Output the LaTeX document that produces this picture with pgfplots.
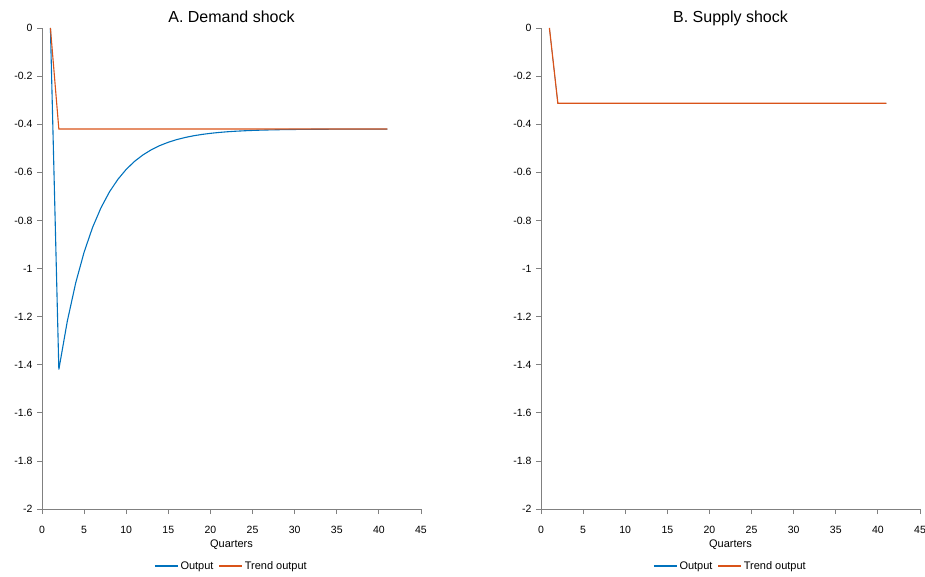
\documentclass[border=0pt]{standalone}
\usepackage{pgfplots}
\pgfplotsset{compat=1.18}
\usepackage{fontspec}
\setmainfont{Liberation Sans}

\definecolor{mblue}{RGB}{0,114,189}
\definecolor{morange}{RGB}{217,83,25}
\definecolor{axgray}{RGB}{128,128,128}

\pgfplotsset{
  panel/.style={
    scale only axis, width=379pt, height=481pt,
    xmin=0, xmax=45, ymin=-2, ymax=0,
    axis x line*=bottom, axis y line*=left,
    axis line style={draw=axgray, line width=0.8pt, -},
    tick align=outside, major tick length=5pt,
    tick style={draw=axgray, line width=0.8pt},
    xtick={0,5,10,15,20,25,30,35,40,45},
    ytick={-2,-1.8,-1.6,-1.4,-1.2,-1,-0.8,-0.6,-0.4,-0.2,0},
    /pgf/number format/assume math mode=true,
    ticklabel style={font=\fontsize{10.5}{12}\selectfont},
    xticklabel style={yshift=-9pt},
    yticklabel style={xshift=-1pt},
    title style={font=\fontsize{16}{18}\selectfont, at={(0.5,1)}, anchor=base, yshift=-1pt},
    xlabel={Quarters},
    xlabel style={font=\fontsize{11}{13}\selectfont, yshift=1pt},
    legend columns=-1,
    legend style={at={(0.5,0)}, anchor=north, yshift=-48pt, draw=none, fill=none,
      font=\fontsize{11}{13}\selectfont,
      /tikz/every even column/.append style={column sep=3pt}},
    legend image code/.code={\draw[#1, line width=1.3pt] (0pt,0pt) -- (23pt,0pt);},
  }
}

\begin{document}
\begin{tikzpicture}
\path[use as bounding box] (0,0) rectangle (925pt,576pt);

\begin{axis}[panel, at={(42pt,67pt)}, anchor=south west, title={A. Demand shock}]
\addplot[draw=mblue, line width=1.1pt] coordinates {
(1,0) (2,-1.42) (3,-1.22) (4,-1.06) (5,-0.932) (6,-0.8296) (7,-0.7477)
(8,-0.6821) (9,-0.6297) (10,-0.5878) (11,-0.5542) (12,-0.5274) (13,-0.5059)
(14,-0.4887) (15,-0.4750) (16,-0.4640) (17,-0.4552) (18,-0.4481) (19,-0.4425)
(20,-0.4380) (21,-0.4344) (22,-0.4315) (23,-0.4292) (24,-0.4274) (25,-0.4259)
(26,-0.4247) (27,-0.4238) (28,-0.4230) (29,-0.4224) (30,-0.4219) (31,-0.4215)
(32,-0.4212) (33,-0.4210) (34,-0.4208) (35,-0.4206) (36,-0.4205) (37,-0.4204)
(38,-0.4203) (39,-0.4202) (40,-0.4202) (41,-0.4202)};
\addplot[draw=morange, line width=1.1pt] coordinates {(1,0) (2,-0.42) (41,-0.42)};
\legend{Output, Trend output}
\end{axis}

\begin{axis}[panel, at={(541pt,67pt)}, anchor=south west, title={B. Supply shock}]
% output coincides with trend output and is hidden beneath it
\addlegendimage{draw=mblue}
\addlegendentry{Output}
\addplot[draw=mblue, line width=0.5pt, forget plot] coordinates {(1,0) (2,-0.313) (41,-0.313)};
\addplot[draw=morange, line width=1.2pt] coordinates {(1,0) (2,-0.313) (41,-0.313)};
\addlegendentry{Trend output}
\end{axis}
\end{tikzpicture}
\end{document}
